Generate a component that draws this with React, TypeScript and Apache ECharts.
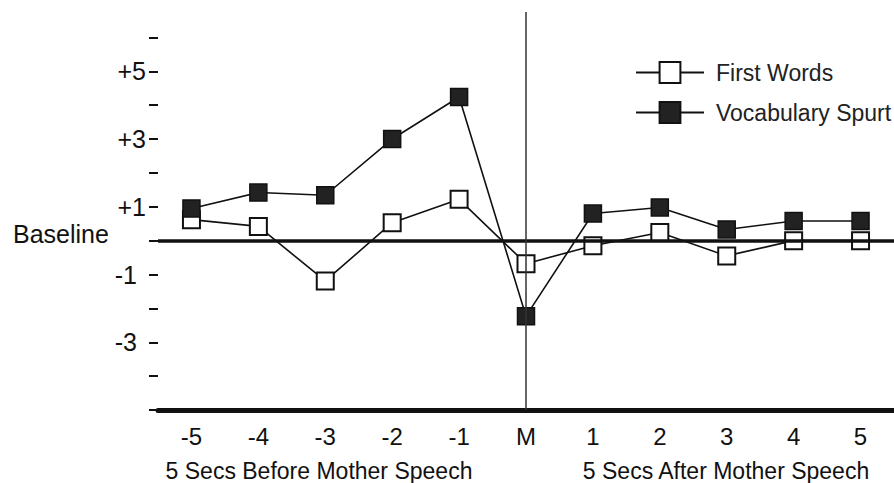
import React, { useEffect, useRef } from "react";
import * as echarts from "echarts";

const categories = ["-5", "-4", "-3", "-2", "-1", "M", "1", "2", "3", "4", "5"];
const firstWords = [0.62, 0.42, -1.19, 0.53, 1.22, -0.68, -0.15, 0.24, -0.45, 0.0, 0.0];
const vocabularySpurt = [0.95, 1.42, 1.34, 3.0, 4.24, -2.23, 0.8, 0.98, 0.33, 0.58, 0.58];
const yTickValues = [-5, -4, -3, -2, -1, 0, 1, 2, 3, 4, 5, 6];
const yLabelValues = [-3, -1, 1, 3, 5];
const yTickLabels: Record<number, string> = { 5: "+5", 3: "+3", 1: "+1", [-1]: "-1", [-3]: "-3" };
const seriesNames = ["First Words", "Vocabulary Spurt"];
const beforeLabel = "5 Secs Before Mother Speech";
const afterLabel = "5 Secs After Mother Speech";
const baselineLabel = "Baseline";

const FONT = '"Liberation Sans", Arial, Helvetica, sans-serif';
const INK = "#111";

export default function App() {
  const ref = useRef<HTMLDivElement>(null);
  useEffect(() => {
    if (!ref.current) return;
    const chart = echarts.init(ref.current, undefined, { renderer: "svg" });
    chart.setOption({
      animation: false,
      backgroundColor: "#fff",
      textStyle: { fontFamily: FONT },
      grid: { left: 158, right: -2, top: 12, bottom: 73, containLabel: false },
      legend: {
        orient: "vertical",
        left: 635,
        top: 61,
        padding: 0,
        itemWidth: 68,
        itemHeight: 26,
        itemGap: 17,
        data: seriesNames,
        textStyle: { fontSize: 23, color: "#222", fontFamily: FONT, padding: [0, 0, 0, 7] },
      },
      xAxis: {
        type: "category",
        data: categories,
        boundaryGap: true,
        axisLine: { show: true, onZero: false, lineStyle: { color: INK, width: 5 } },
        axisTick: { show: false },
        axisLabel: { fontSize: 24, color: INK, margin: 14, fontFamily: FONT },
        splitLine: { show: false },
      },
      yAxis: {
        type: "value",
        min: -5,
        max: 6.75,
        axisLine: { show: false },
        axisTick: {
          show: true,
          length: 9,
          customValues: yTickValues,
          lineStyle: { color: INK, width: 2 },
        },
        splitLine: { show: false },
        axisLabel: {
          margin: 12,
          fontSize: 25,
          color: INK,
          fontFamily: FONT,
          customValues: yLabelValues,
          formatter: (v: number) => {
            const t = yTickLabels[v];
            if (!t) return "";
            return v < 0 ? `{n|${t}}` : `{p|${t}}`;
          },
          rich: {
            n: { fontSize: 25, color: INK, fontFamily: FONT, padding: [0, 9, 0, 0] },
            p: { fontSize: 25, color: INK, fontFamily: FONT },
          },
        },
      },
      graphic: [
        {
          type: "text",
          left: 13,
          top: 221,
          style: { text: baselineLabel, fontSize: 25, fill: INK, fontFamily: FONT },
        },
        {
          type: "text",
          x: 319,
          y: 471,
          style: {
            text: beforeLabel,
            fontSize: 23,
            fill: INK,
            fontFamily: FONT,
            textAlign: "center",
            textVerticalAlign: "middle",
          },
        },
        {
          type: "text",
          x: 726,
          y: 471,
          style: {
            text: afterLabel,
            fontSize: 23,
            fill: INK,
            fontFamily: FONT,
            textAlign: "center",
            textVerticalAlign: "middle",
          },
        },
      ],
      series: [
        {
          name: seriesNames[0],
          type: "line",
          data: firstWords,
          symbol: "rect",
          symbolSize: 17,
          lineStyle: { color: INK, width: 1.6 },
          itemStyle: { color: "#fff", borderColor: INK, borderWidth: 2 },
          z: 3,
          markLine: {
            silent: true,
            symbol: "none",
            label: { show: false },
            animation: false,
            data: [
              { yAxis: 0, lineStyle: { color: INK, width: 3.5, type: "solid" } },
              { xAxis: "M", lineStyle: { color: "#333", width: 1.5, type: "solid" } },
            ],
          },
        },
        {
          name: seriesNames[1],
          type: "line",
          data: vocabularySpurt,
          symbol: "rect",
          symbolSize: 17,
          lineStyle: { color: INK, width: 1.6 },
          itemStyle: { color: "#222", borderColor: INK, borderWidth: 1.5 },
          z: 4,
        },
      ],
    });
    return () => chart.dispose();
  }, []);
  return (
    <div
      ref={ref}
      style={{ position: "fixed", left: 0, top: 0, width: 894, height: 483 }}
    />
  );
}
